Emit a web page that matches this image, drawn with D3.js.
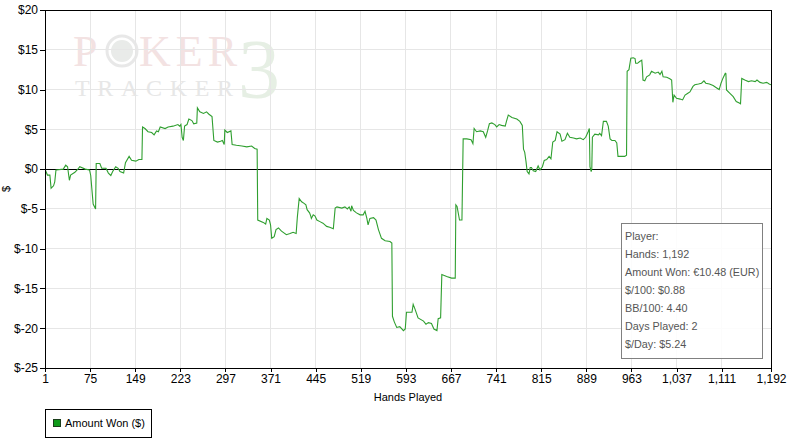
<!DOCTYPE html>
<html><head><meta charset="utf-8">
<script src="https://cdn.jsdelivr.net/npm/d3@7"></script>
<style>
html,body{margin:0;padding:0;background:#fff;}
svg{display:block;}
</style></head>
<body>
<script>
// ---- data ----
const hands = [1,5,9,11,15,17,19,31,35,38,41,43,50,56,58,67,74,76,80,84,85,91,94,101,105,109,112,117,121,124,130,133,139,143,150,155,160,161,165,170,176,180,184,187,190,198,203,211,219,222,224,226,228,230,234,237,242,245,250,251,255,261,266,270,275,278,284,289,292,295,296,300,306,308,315,324,332,340,345,349,350,359,363,365,369,371,373,377,380,384,389,397,403,408,413,415,418,422,426,429,431,435,437,438,441,444,447,452,457,463,468,474,477,480,488,493,497,500,503,504,507,512,518,523,526,529,531,534,540,544,548,553,559,567,570,571,574,578,583,589,592,594,599,603,605,608,613,622,626,630,635,639,644,646,650,652,660,668,674,675,677,681,685,687,693,700,703,705,709,715,720,724,727,730,734,739,742,746,750,756,758,761,767,775,780,784,786,788,790,792,795,797,799,802,806,810,813,817,820,824,828,831,834,838,841,846,849,854,858,862,868,873,879,884,888,892,894,895,897,898,899,903,909,911,914,917,922,925,928,931,936,939,941,947,952,955,956,959,962,966,969,970,973,976,980,981,982,985,988,993,996,1002,1007,1010,1013,1015,1021,1026,1029,1031,1033,1037,1043,1047,1051,1055,1059,1064,1067,1073,1078,1082,1085,1091,1097,1103,1107,1110,1113,1117,1118,1119,1125,1130,1135,1140,1142,1144,1149,1155,1160,1166,1169,1174,1179,1185,1189,1192];
const amountWon = [0,-0.75,-0.75,-2.4,-2.1,-1.6,-0.1,0,0.5,0.3,-1.4,-0.75,-0.4,0.1,0.3,0,-0.1,-0.8,-4.4,-5.0,0.7,0.7,0.1,0.1,-0.5,-0.8,-0.3,0.3,0.1,-0.3,-0.5,0.8,1.6,1.1,1.0,1.2,1.2,5.3,5.1,4.7,4.6,4.3,4.8,4.7,5.3,5.1,5.3,5.4,5.6,5.4,5.6,4.0,3.6,5.4,5.6,6.3,6.1,5.7,5.8,7.7,7.2,7.0,7.2,6.9,6.6,3.6,3.4,3.5,3.6,3.1,4.9,4.6,4.8,3.1,3.0,2.9,2.8,2.9,2.6,2.5,-6.4,-6.7,-6.9,-6.2,-6.4,-7.0,-8.7,-8.5,-7.6,-7.4,-7.8,-8.25,-8.1,-7.95,-8.1,-6.0,-3.7,-4.1,-4.3,-4.5,-5.1,-5.5,-5.9,-6.2,-5.75,-5.9,-6.4,-6.6,-6.8,-7.2,-7.3,-7.5,-4.9,-4.75,-4.9,-4.75,-5.0,-4.75,-5.3,-4.6,-5.2,-5.5,-5.75,-5.75,-5.3,-6.2,-7.0,-6.2,-6.1,-6.4,-7.6,-8.7,-9.0,-9.1,-9.3,-18.5,-19.2,-19.9,-19.8,-20.3,-20.1,-18.0,-18.0,-18.0,-17.0,-17.6,-18.7,-19.1,-19.5,-19.3,-19.4,-20.1,-20.3,-18.8,-18.7,-13.25,-13.5,-13.7,-13.7,-4.5,-4.7,-6.4,-6.4,3.8,3.8,3.7,3.2,5.1,4.7,4.8,4.7,4.0,4.8,5.7,5.8,5.6,5.3,5.6,5.5,5.4,6.0,6.8,6.5,6.3,6.0,5.5,2.5,2.1,1.0,-0.3,-0.6,0.2,0.2,-0.2,-0.3,0.4,-0.1,0.3,1.1,1.2,1.6,1.3,3.4,3.6,4.7,4.4,3.5,3.7,4.5,4.0,3.9,3.8,3.9,3.7,4.0,4.7,5.1,0.3,-0.3,0.0,4.0,4.4,4.3,4.5,4.2,6.0,6.0,5.4,3.8,3.6,3.6,3.3,1.6,1.6,1.6,1.75,12.3,12.5,13.95,14.0,13.9,13.3,13.3,13.5,13.7,12.7,11.2,11.1,11.6,11.85,12.3,12.05,12.2,11.9,12.3,11.6,11.55,11.35,11.2,8.4,9.3,8.9,8.8,8.7,9.3,9.5,9.7,10.4,10.6,10.7,10.8,11.1,10.8,10.7,10.5,10.2,10.0,10.8,11.4,12.05,12.0,9.95,9.5,9.1,8.5,8.3,8.2,11.4,11.2,11.0,11.1,11.0,11.2,10.9,10.8,10.9,10.7,10.6];
const xTicks = [1,75,149,223,297,371,445,519,593,667,741,815,889,963,1037,1111,1192];
const yTicks = [20,15,10,5,0,-5,-10,-15,-20,-25];
const statsLines = ["Player:","Hands: 1,192","Amount Won: €10.48 (EUR)","$/100: $0.88","BB/100: 4.40","Days Played: 2","$/Day: $5.24"];
const seriesName = "Amount Won ($)";
const xTitle = "Hands Played";
const yTitle = "$";

// ---- layout ----
const W = 791, H = 448;
const L = 45, R = 771, T = 10, B = 368;
const lineColor = "#2f9f2f";

const svg = d3.select("body").append("svg").attr("width", W).attr("height", H);
const x = d3.scaleLinear().domain([1, 1192]).range([L, R]);
const y = d3.scaleLinear().domain([-25, 20]).range([B, T]);

// watermark
const wm = svg.append("g").attr("font-family", "Liberation Serif, serif");
wm.append("text").attr("x", 73).attr("y", 66).attr("font-size", 44).attr("fill", "#f3e2e2").text("P");
wm.append("circle").attr("cx", 122).attr("cy", 51).attr("r", 15).attr("fill", "none").attr("stroke", "#e8e8e8").attr("stroke-width", 3);
wm.append("circle").attr("cx", 122).attr("cy", 51).attr("r", 11).attr("fill", "#e9ebe9");
wm.append("text").attr("x", 139).attr("y", 66).attr("font-size", 44).attr("fill", "#f3e2e2").attr("textLength", 98).text("KER");
wm.append("text").attr("x", 75).attr("y", 96).attr("font-size", 24).attr("fill", "#e7e7e7").attr("textLength", 158).text("TRACKER");
wm.append("text").attr("x", 238).attr("y", 98).attr("font-size", 84).attr("fill", "#e6efe4").text("3");

// grid
const grid = svg.append("g").attr("stroke", "#e6e6e6").attr("stroke-width", 1).attr("shape-rendering", "crispEdges");
xTicks.forEach(t => grid.append("line").attr("x1", x(t)).attr("x2", x(t)).attr("y1", T).attr("y2", B));
yTicks.forEach(t => grid.append("line").attr("x1", L).attr("x2", R).attr("y1", y(t)).attr("y2", y(t)));

// zero line
svg.append("line").attr("x1", L).attr("x2", R).attr("y1", y(0)).attr("y2", y(0))
  .attr("stroke", "#000").attr("shape-rendering", "crispEdges");

// series line
svg.append("defs").append("clipPath").attr("id", "clip").append("rect")
  .attr("x", L).attr("y", T).attr("width", R - L).attr("height", B - T);
const pts = hands.map((h, i) => [h, amountWon[i]]);
svg.append("path").datum(pts)
  .attr("clip-path", "url(#clip)")
  .attr("fill", "none").attr("stroke", lineColor).attr("stroke-width", 1.1)
  .attr("d", d3.line().x(d => x(d[0])).y(d => y(d[1])));

// frame
svg.append("rect").attr("x", L).attr("y", T).attr("width", R - L).attr("height", B - T)
  .attr("fill", "none").attr("stroke", "#000").attr("stroke-width", 1).attr("shape-rendering", "crispEdges");

// axes
const fmtX = d3.format(",");
const xAxis = svg.append("g").attr("transform", `translate(0,${B})`)
  .call(d3.axisBottom(x).tickValues(xTicks).tickFormat(fmtX).tickSize(4).tickPadding(2));
const yAxis = svg.append("g").attr("transform", `translate(${L},0)`)
  .call(d3.axisLeft(y).tickValues(yTicks).tickFormat(d => "$" + d).tickSize(5).tickPadding(2));
[xAxis, yAxis].forEach(a => {
  a.select(".domain").remove();
  a.selectAll("line").attr("stroke", "#000").attr("shape-rendering", "crispEdges");
  a.selectAll("text").attr("font-family", "Liberation Sans, Arial, sans-serif").attr("font-size", 12).attr("fill", "#000");
});

// axis titles
svg.append("text").attr("x", 408).attr("y", 401).attr("text-anchor", "middle")
  .attr("font-family", "Liberation Sans, Arial, sans-serif").attr("font-size", 11).text(xTitle);
svg.append("text").attr("transform", `translate(10,189) rotate(-90)`).attr("text-anchor", "middle")
  .attr("font-family", "Liberation Sans, Arial, sans-serif").attr("font-size", 11).text(yTitle);

// stats box
const box = svg.append("g");
box.append("rect").attr("x", 621.5).attr("y", 223.5).attr("width", 141).attr("height", 135)
  .attr("fill", "#fff").attr("fill-opacity", 0.85).attr("stroke", "#808080");
box.selectAll("text.s").data(statsLines).join("text")
  .attr("x", 625).attr("y", (d, i) => 240 + i * 18)
  .attr("font-family", "Liberation Sans, Arial, sans-serif").attr("font-size", 10.8).attr("fill", "#555")
  .text(d => d);

// legend
const lg = svg.append("g");
lg.append("rect").attr("x", 45.5).attr("y", 409.5).attr("width", 106).attr("height", 28)
  .attr("fill", "#fff").attr("stroke", "#000");
lg.append("rect").attr("x", 53.5).attr("y", 419.5).attr("width", 7).attr("height", 7)
  .attr("fill", "#0f9a1a").attr("stroke", "#1b3d1b");
lg.append("text").attr("x", 65).attr("y", 427).attr("font-family", "Liberation Sans, Arial, sans-serif")
  .attr("font-size", 11).attr("fill", "#000").text(seriesName);
</script>
</body></html>
